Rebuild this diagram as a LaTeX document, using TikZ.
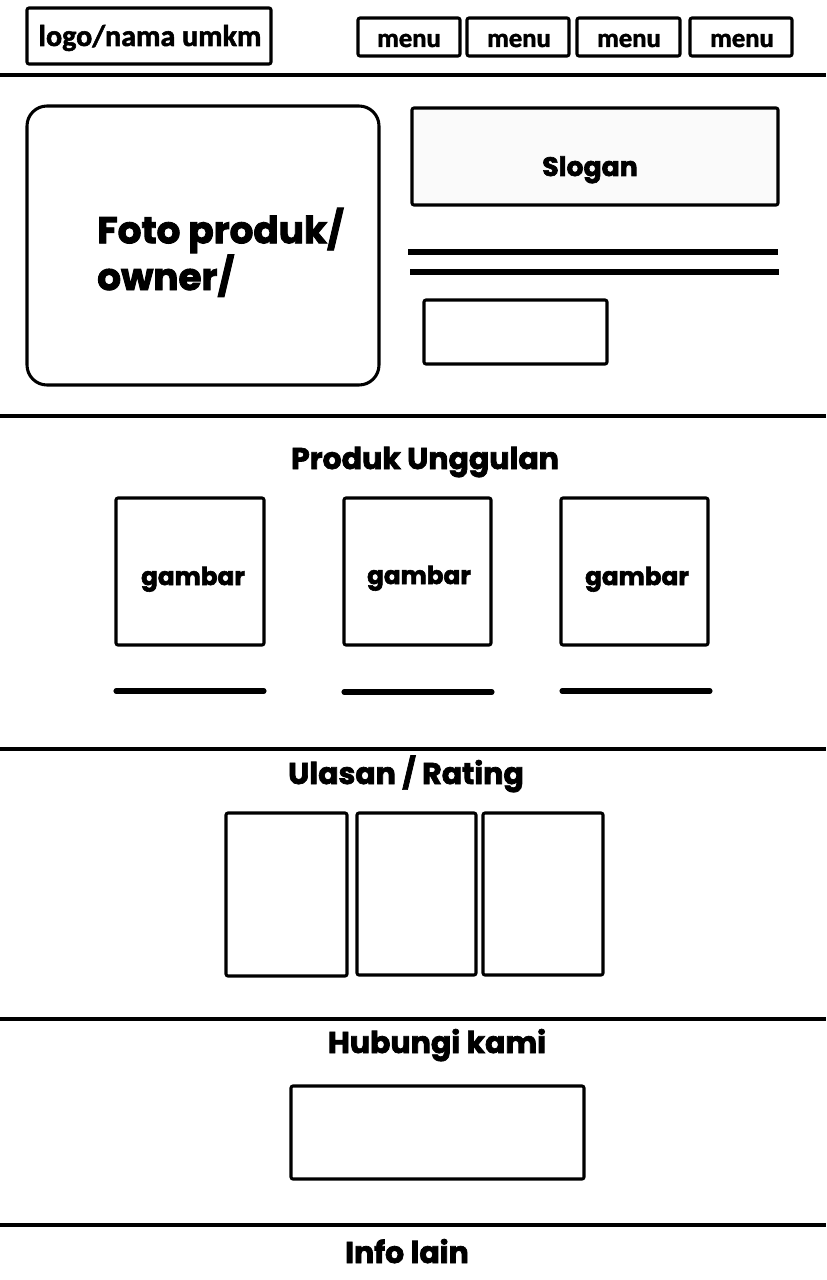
\documentclass[tikz,border=0pt]{standalone}
\usepackage{fontspec}
\setmainfont{Poppins}[BoldFeatures={FakeBold=2.4}]
\newfontfamily\navfont{Carlito}[BoldFeatures={FakeBold=1.8}]
\usetikzlibrary{fit}
\begin{document}
\begin{tikzpicture}[x=0.75pt,y=-0.75pt,
  frame/.style={draw=black,line width=2.3pt,rounded corners=1.5pt,inner sep=0pt},
  txt/.style={anchor=base,inner sep=0pt},
  navtext/.style={txt,font=\navfont\bfseries\fontsize{22.5}{24}\selectfont},
  menutext/.style={txt,font=\navfont\bfseries\fontsize{20}{22}\selectfont},
  heading/.style={txt,font=\bfseries\fontsize{22.5}{26}\selectfont},
  cardtext/.style={txt,font=\bfseries\fontsize{18.5}{22}\selectfont},
  divider/.style={line width=2.3pt},
  bar/.style={line width=4.5pt},
  underbar/.style={line width=3.8pt,line cap=round}]
\useasboundingbox (0,0) rectangle (826,1280);

% header bar
\node[frame,fit={(27,8) (271,64)}] (logo) {};
\node[navtext] (logotext) at (150,46) {logo/nama umkm};
\node[frame,fit={(358,18) (460,56)}] (m1) {};
\node[frame,fit={(467,18) (569,56)}] (m2) {};
\node[frame,fit={(577,18) (680,56)}] (m3) {};
\node[frame,fit={(690,18) (792,56)}] (m4) {};
\node[menutext] (m1text) at (409,47) {menu};
\node[menutext] (m2text) at (519,47) {menu};
\node[menutext] (m3text) at (629,47) {menu};
\node[menutext] (m4text) at (742,47) {menu};
\draw[divider] (0,75) -- (826,75);

% hero section
\node[frame,rounded corners=15pt,fit={(27,106) (379,385)}] (photo) {};
\node[anchor=base west,inner sep=0pt,align=left,
      font=\bfseries\fontsize{28}{28.5}\selectfont] (phototext) at (97,290)
      {Foto produk/\\owner/};
\node[frame,fill=black!2,fit={(412,108) (778,205)}] (slogan) {};
\node[txt,font=\bfseries\fontsize{20}{24}\selectfont] (slogantext) at (590,176) {Slogan};
\draw[bar] (408,252) -- (778,252);
\draw[bar] (410,272) -- (779,272);
\node[frame,fit={(424,300) (607,364)}] (cta) {};
\draw[divider] (0,416) -- (826,416);

% featured products
\node[heading] (produk) at (425,469) {Produk Unggulan};
\node[frame,fit={(116,498) (264,645)}] (g1) {};
\node[frame,fit={(344,498) (491,645)}] (g2) {};
\node[frame,fit={(561,498) (708,645)}] (g3) {};
\node[cardtext] (g1text) at (193,585) {gambar};
\node[cardtext] (g2text) at (419,584) {gambar};
\node[cardtext] (g3text) at (637,585) {gambar};
\draw[underbar] (116,691) -- (264,691);
\draw[underbar] (344,692) -- (492,692);
\draw[underbar] (562,691) -- (710,691);
\draw[divider] (0,749) -- (826,749);

% reviews
\node[heading] (ulasan) at (406,784) {Ulasan / Rating};
\node[frame,fit={(226,813) (347,976)}] (r1) {};
\node[frame,fit={(357,813) (476,975)}] (r2) {};
\node[frame,fit={(483,813) (603,975)}] (r3) {};
\draw[divider] (0,1019) -- (826,1019);

% contact
\node[heading] (hubungi) at (437,1053) {Hubungi kami};
\node[frame,fit={(291,1086) (584,1179)}] (contact) {};
\draw[divider] (0,1225) -- (826,1225);

% footer
\node[heading] (info) at (407,1263) {Info lain};
\end{tikzpicture}
\end{document}
